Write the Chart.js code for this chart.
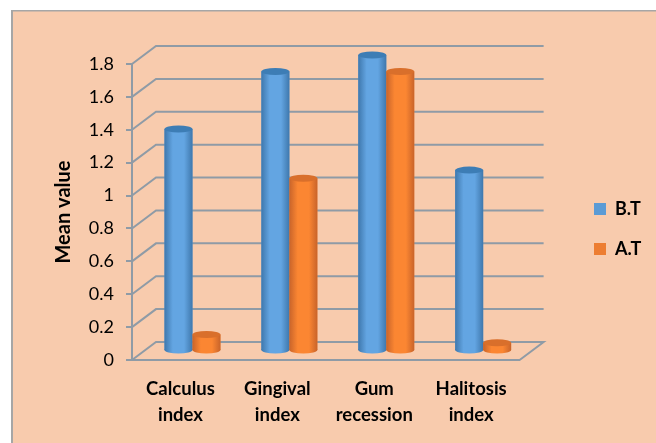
<!DOCTYPE html>
<html>
<head>
<meta charset="utf-8">
<style>
  html, body { margin: 0; padding: 0; background: #fff; }
  #wrap { width: 656px; height: 443px; }
</style>
</head>
<body>
<div id="wrap"><canvas id="myChart" width="656" height="443"></canvas></div>
<script src="https://cdn.jsdelivr.net/npm/chart.js@4"></script>
<script>
const categories = [["Calculus", "index"], ["Gingival", "index"], ["Gum", "recession"], ["Halitosis", "index"]];
const beforeTreatment = [1.35, 1.7, 1.8, 1.1];
const afterTreatment = [0.1, 1.05, 1.7, 0.05];
const yTicks = [0, 0.2, 0.4, 0.6, 0.8, 1, 1.2, 1.4, 1.6, 1.8];

const FONT = "Lato, Carlito, 'Open Sans', sans-serif";
const GRID = "#8f9ba6";
const DEPTH = { x: 24, y: 18 };
const BAR_SHIFT = { x: 12, y: -9 };

const shades = {
  0: { edge: "#3f78ad", mid: "#63a5e2", cap: "#3d7db5" },
  1: { edge: "#c9642a", mid: "#fb8632", cap: "#d96f2b" },
};

// panel behind everything
const panel = {
  id: "panel",
  beforeDraw(chart) {
    const c = chart.ctx;
    c.save();
    c.fillStyle = "#f8cbad";
    c.fillRect(12, 10, 644, 433);
    c.fillStyle = "#a6a6a6";
    c.fillRect(11, 10, 645, 1.5);
    c.fillRect(11, 10, 2, 433);
    c.restore();
  },
};

// back wall and floor, taken from the y scale
const wall = {
  id: "wall",
  beforeDatasetsDraw(chart) {
    const c = chart.ctx, y = chart.scales.y, a = chart.chartArea;
    c.save();
    c.strokeStyle = GRID;
    c.lineWidth = 2;
    yTicks.forEach((t) => {
      const p = y.getPixelForValue(t);
      c.beginPath();
      c.moveTo(a.left, p);
      c.lineTo(a.left + DEPTH.x, p - DEPTH.y);
      c.lineTo(a.right + DEPTH.x, p - DEPTH.y);
      if (t === 0) {
        c.lineTo(a.right, p);
      }
      c.stroke();
    });
    c.restore();
    // bars stand half way into the floor
    c.save();
    c.translate(BAR_SHIFT.x, BAR_SHIFT.y);
  },
  afterDatasetsDraw(chart) {
    const c = chart.ctx;
    chart.data.datasets.forEach((ds, i) => {
      chart.getDatasetMeta(i).data.forEach((bar) => {
        const hw = bar.width / 2, s = shades[i];
        const g = c.createLinearGradient(bar.x - hw, 0, bar.x + hw, 0);
        g.addColorStop(0, s.edge);
        g.addColorStop(0.3, s.mid);
        g.addColorStop(0.7, s.mid);
        g.addColorStop(1, s.edge);
        c.fillStyle = g;
        c.fillRect(bar.x - hw, bar.y, bar.width, bar.base - bar.y);
        c.beginPath();
        c.ellipse(bar.x, bar.base, hw, 3.5, 0, 0, Math.PI * 2);
        c.fill();
        c.fillStyle = s.cap;
        c.beginPath();
        c.ellipse(bar.x, bar.y, hw, 3.5, 0, 0, Math.PI * 2);
        c.fill();
      });
    });
    c.restore();
  },
};

// legend sits apart from the plot
const moveLegend = {
  id: "moveLegend",
  afterLayout(chart) {
    const l = chart.legend, w = l.width, h = l.height;
    l.left = 572; l.right = l.left + w;
    l.top = 229 - h / 2; l.bottom = l.top + h;
  },
};

new Chart(document.getElementById("myChart"), {
  type: "bar",
  data: {
    labels: categories,
    datasets: [
      { label: "B.T", data: beforeTreatment, backgroundColor: "#5b9bd5" },
      { label: "A.T", data: afterTreatment, backgroundColor: "#ed7d31" },
    ],
  },
  plugins: [panel, wall, moveLegend],
  options: {
    responsive: false,
    animation: false,
    layout: { padding: { left: 52, right: 57, top: 64, bottom: 20 } },
    datasets: { bar: { categoryPercentage: 0.577, barPercentage: 1, clip: false } },
    plugins: {
      tooltip: { enabled: false },
      legend: {
        position: "right",
        labels: {
          boxWidth: 12,
          boxHeight: 12,
          padding: 22,
          color: "#000",
          font: { family: FONT, size: 18, weight: "bold" },
        },
      },
    },
    scales: {
      x: {
        afterFit: (s) => { s.height = 63; },
        grid: { display: false, drawTicks: false },
        border: { display: true, color: GRID, width: 2 },
        ticks: {
          color: "#000",
          maxRotation: 0,
          padding: 16,
          font: { family: FONT, size: 18.5, weight: "bold", lineHeight: 1.4 },
        },
      },
      y: {
        min: 0,
        max: 1.8,
        afterBuildTicks: (s) => { s.ticks = yTicks.map((v) => ({ value: v })); },
        afterFit: (s) => { s.width = 80; },
        title: {
          display: true,
          text: "Mean value",
          color: "#000",
          font: { family: FONT, size: 20, weight: "bold" },
          padding: 0,
        },
        border: { color: GRID, width: 2 },
        grid: { drawOnChartArea: false, color: GRID, lineWidth: 2, tickLength: 6 },
        ticks: {
          color: "#000",
          padding: 12,
          font: { family: FONT, size: 18 },
          callback: (v) => String(v),
        },
      },
    },
  },
});
</script>
</body>
</html>
